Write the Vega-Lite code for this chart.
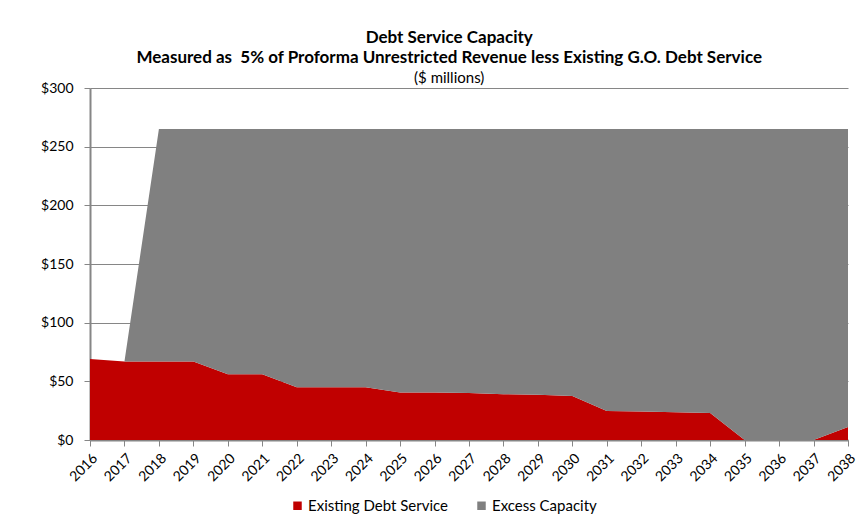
{
  "$schema": "https://vega.github.io/schema/vega-lite/v6.json",
  "autosize": {"type": "none"},
  "width": 758,
  "height": 352,
  "padding": {"left": 90, "top": 88, "right": 17, "bottom": 92},
  "background": "white",
  "config": {
    "font": "Lato",
    "view": {"stroke": null},
    "axis": {
      "labelFont": "Lato",
      "labelFontSize": 14,
      "labelColor": "#000000",
      "domainColor": "#868686",
      "tickColor": "#868686",
      "gridColor": "#868686",
      "gridWidth": 1
    },
    "legend": {"labelFont": "Lato", "labelFontSize": 15, "labelColor": "#000000"}
  },
  "title": {
    "text": ["Debt Service Capacity", "Measured as\u00a0 5% of Proforma Unrestricted Revenue less Existing G.O. Debt Service"],
    "subtitle": "($ millions)",
    "frame": "bounds",
    "anchor": "middle",
    "font": "Lato",
    "fontSize": 17,
    "fontWeight": "bold",
    "lineHeight": 20,
    "subtitleFont": "Lato",
    "subtitleFontSize": 15,
    "subtitleColor": "#000000",
    "subtitleLineHeight": 15,
    "subtitlePadding": 4,
    "offset": -6
  },
  "data": {
    "values": [
      {"year": "2016", "series": "Existing Debt Service", "value": 69},
      {"year": "2017", "series": "Existing Debt Service", "value": 67},
      {"year": "2018", "series": "Existing Debt Service", "value": 67},
      {"year": "2019", "series": "Existing Debt Service", "value": 67},
      {"year": "2020", "series": "Existing Debt Service", "value": 56},
      {"year": "2021", "series": "Existing Debt Service", "value": 56},
      {"year": "2022", "series": "Existing Debt Service", "value": 45},
      {"year": "2023", "series": "Existing Debt Service", "value": 45},
      {"year": "2024", "series": "Existing Debt Service", "value": 45},
      {"year": "2025", "series": "Existing Debt Service", "value": 40.5},
      {"year": "2026", "series": "Existing Debt Service", "value": 40.5},
      {"year": "2027", "series": "Existing Debt Service", "value": 40},
      {"year": "2028", "series": "Existing Debt Service", "value": 39},
      {"year": "2029", "series": "Existing Debt Service", "value": 38.5},
      {"year": "2030", "series": "Existing Debt Service", "value": 37.5},
      {"year": "2031", "series": "Existing Debt Service", "value": 24.7},
      {"year": "2032", "series": "Existing Debt Service", "value": 24.2},
      {"year": "2033", "series": "Existing Debt Service", "value": 23.6},
      {"year": "2034", "series": "Existing Debt Service", "value": 23},
      {"year": "2035", "series": "Existing Debt Service", "value": 0},
      {"year": "2036", "series": "Existing Debt Service", "value": 0},
      {"year": "2037", "series": "Existing Debt Service", "value": 0},
      {"year": "2038", "series": "Existing Debt Service", "value": 11},
      {"year": "2016", "series": "Excess Capacity", "value": 0},
      {"year": "2017", "series": "Excess Capacity", "value": 0},
      {"year": "2018", "series": "Excess Capacity", "value": 198},
      {"year": "2019", "series": "Excess Capacity", "value": 198},
      {"year": "2020", "series": "Excess Capacity", "value": 209},
      {"year": "2021", "series": "Excess Capacity", "value": 209},
      {"year": "2022", "series": "Excess Capacity", "value": 220},
      {"year": "2023", "series": "Excess Capacity", "value": 220},
      {"year": "2024", "series": "Excess Capacity", "value": 220},
      {"year": "2025", "series": "Excess Capacity", "value": 224.5},
      {"year": "2026", "series": "Excess Capacity", "value": 224.5},
      {"year": "2027", "series": "Excess Capacity", "value": 225},
      {"year": "2028", "series": "Excess Capacity", "value": 226},
      {"year": "2029", "series": "Excess Capacity", "value": 226.5},
      {"year": "2030", "series": "Excess Capacity", "value": 227.5},
      {"year": "2031", "series": "Excess Capacity", "value": 240.3},
      {"year": "2032", "series": "Excess Capacity", "value": 240.8},
      {"year": "2033", "series": "Excess Capacity", "value": 241.4},
      {"year": "2034", "series": "Excess Capacity", "value": 242},
      {"year": "2035", "series": "Excess Capacity", "value": 265},
      {"year": "2036", "series": "Excess Capacity", "value": 265},
      {"year": "2037", "series": "Excess Capacity", "value": 265},
      {"year": "2038", "series": "Excess Capacity", "value": 254}
    ]
  },
  "mark": {"type": "area", "opacity": 1},
  "encoding": {
    "x": {
      "field": "year",
      "type": "ordinal",
      "scale": {"padding": 0},
      "axis": {
        "title": null,
        "labelAngle": -45,
        "labelPadding": 5,
        "tickSize": 6,
        "domainWidth": 2,
        "grid": false
      }
    },
    "y": {
      "field": "value",
      "type": "quantitative",
      "stack": "zero",
      "scale": {"domain": [0, 300], "nice": false},
      "axis": {
        "title": null,
        "values": [0, 50, 100, 150, 200, 250, 300],
        "format": "$.0f",
        "tickSize": 6,
        "domainWidth": 2,
        "labelPadding": 11,
        "grid": true
      }
    },
    "color": {
      "field": "series",
      "type": "nominal",
      "sort": ["Existing Debt Service", "Excess Capacity"],
      "scale": {
        "domain": ["Existing Debt Service", "Excess Capacity"],
        "range": ["#C00000", "#808080"]
      },
      "legend": {
        "title": null,
        "orient": "none",
        "direction": "horizontal",
        "legendX": 200,
        "legendY": 410,
        "symbolType": "square",
        "symbolSize": 72,
        "symbolOpacity": 1,
        "symbolStrokeWidth": 0,
        "labelOffset": 3,
        "columnPadding": 26
      }
    }
  }
}
